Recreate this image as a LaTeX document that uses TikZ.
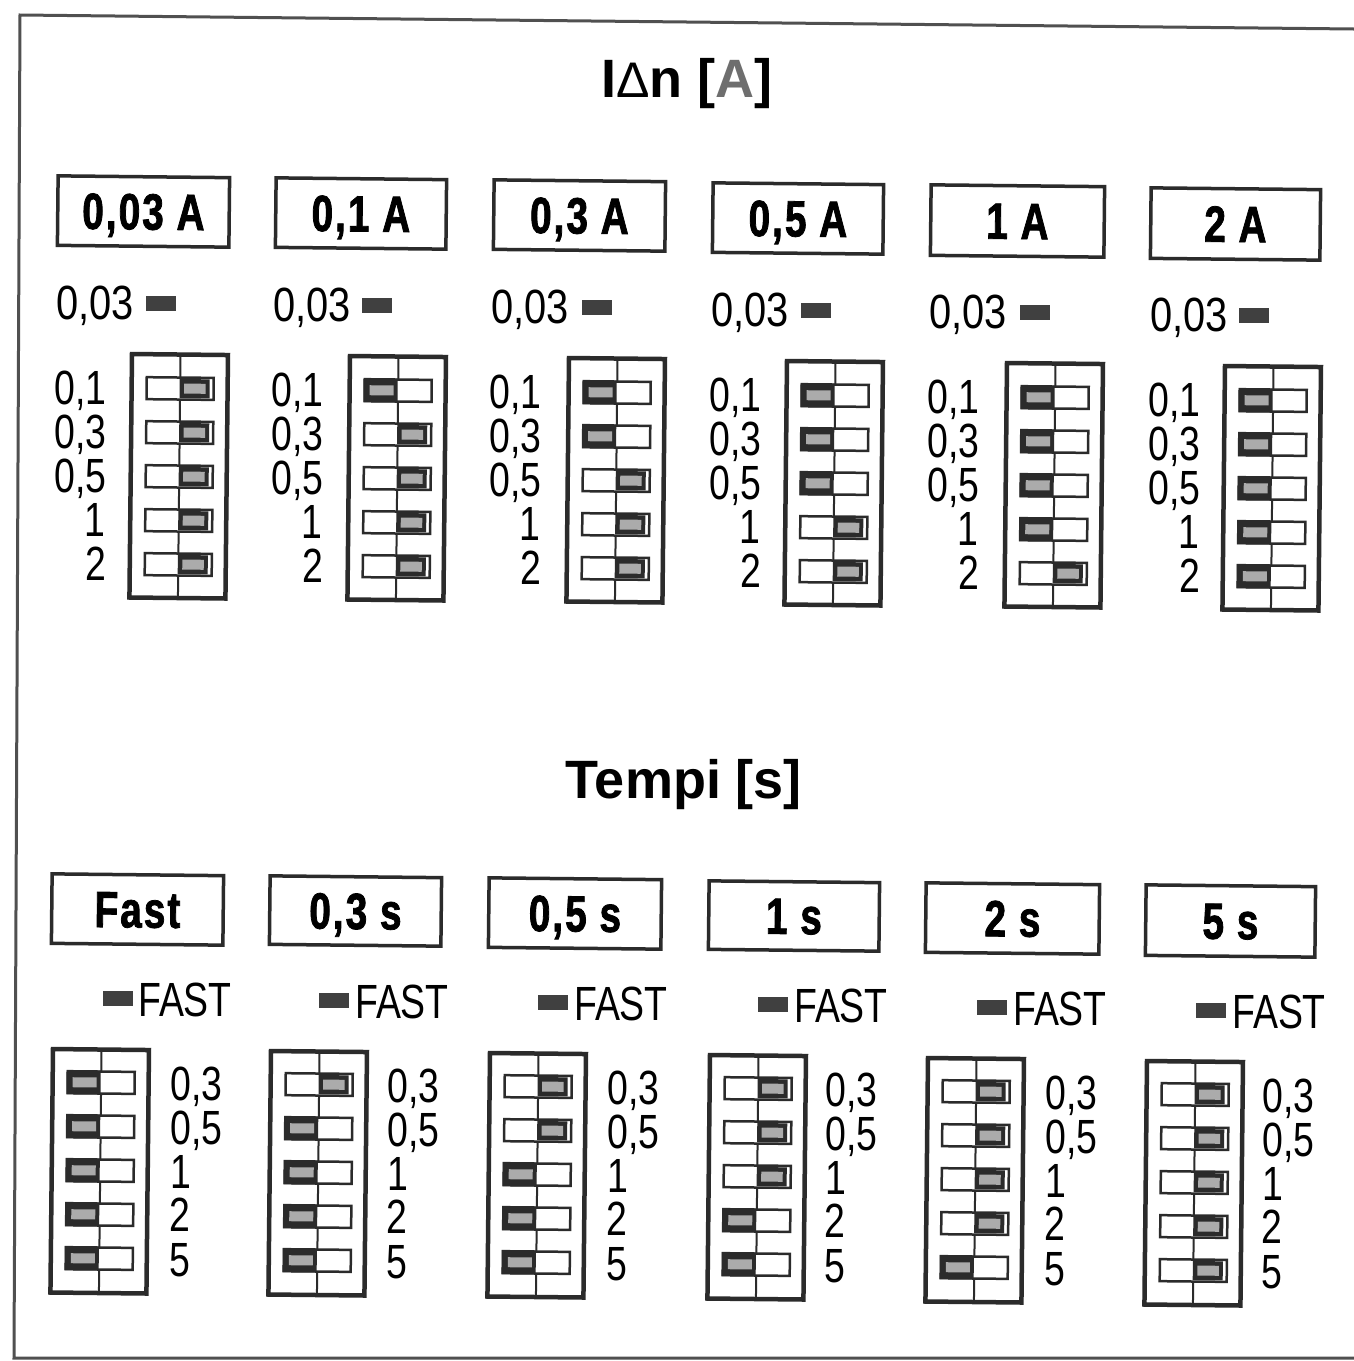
\documentclass[tikz,border=0pt]{standalone}
\usepackage{fontspec}
\setmainfont{Liberation Sans}
\newfontfamily\condfont[FakeStretch=0.83]{Liberation Sans}
\newfontfamily\fastfont[FakeStretch=0.78]{Liberation Sans}
\newfontfamily\hdrfont[FakeStretch=0.76,LetterSpace=4,FakeBold=1.5]{Liberation Sans Bold}
\definecolor{ink}{HTML}{2B2B2B}
\definecolor{framegray}{HTML}{505050}
\definecolor{slidergray}{HTML}{ABABAB}
\definecolor{bargray}{HTML}{404040}
\definecolor{titlegray}{HTML}{6E6E6E}
\newcommand{\tilt}{-0.6}
\tikzset{
  x=1pt,y=-1pt,
  hdrbox/.style={draw=ink,line width=3.5pt,fill=white,rotate=\tilt,inner sep=0pt,
    text=black,font=\hdrfont\fontsize{51}{51}\selectfont,text height=36pt,text depth=0pt},
  lbl/.style={inner sep=0pt,text=black,font=\condfont\fontsize{48}{48}\selectfont,text height=33pt,text depth=0pt},
  fastlbl/.style={inner sep=0pt,text=black,font=\fastfont\fontsize{48}{48}\selectfont,text height=33pt,text depth=0pt},
  titletext/.style={inner sep=0pt,text=black,font=\bfseries\fontsize{54}{54}\selectfont},
  panelbox/.style={draw=ink,line width=4.5pt,fill=white},
  midline/.style={draw=ink,line width=2pt},
  switchbox/.style={draw=ink,line width=2.5pt,fill=white},
  sliderframe/.style={fill=ink,draw=none},
  slidercore/.style={fill=slidergray,draw=none},
  legendbar/.style={fill=bargray,draw=none}
}
% #1 left, #2 top, #3 first-row offset, #4 list of slider sides (0 left, 1 right)
\newcommand{\swpanel}[4]{%
  \begin{scope}[shift={(#1,#2)},rotate=\tilt]
    \draw[panelbox] (2,1) rectangle (98,244.5);
    \draw[midline] (50.5,1) -- (50.5,244.5);
    \foreach \s [count=\i from 0] in {#4}{%
      \pgfmathsetmacro{\ry}{#3+44*\i}
      \draw[switchbox] (17,\ry-11) rectangle (84,\ry+11);
      \ifnum\s=0
        \fill[sliderframe] (16,\ry-12) rectangle (50,\ry+12);
        \fill[slidercore] (22,\ry-5) rectangle (46,\ry+5);
      \else
        \fill[sliderframe] (50,\ry-9.5) rectangle (80,\ry+9.5);
        \fill[slidercore] (54.5,\ry-5) rectangle (76,\ry+5);
      \fi
    }
  \end{scope}}
\newcommand{\legendbar}[2]{\fill[legendbar] (#1,#2) rectangle ++(30,15);}
\newcommand{\upcol}[9]{%
  % #1 id, #2,#3 box L,T, #4,#5 box W,H, #6 text left, #7 bar left, #8 panel left, #9 panel top
  \node[hdrbox,minimum width={#4pt-1.5pt},minimum height={#5pt-1.5pt}] (h#1) at ({#2+#4/2},{#3+#5/2}) {\HdrText};
  \node[lbl,anchor=west] (k#1) at (#6,{#9-50}) {0,03};
  \legendbar{#7}{#9-57}
  \node[fastlbl,anchor=east] (a#1) at (#6+51,#9+35) {0,1};
  \node[fastlbl,anchor=east] (b#1) at (#6+51,#9+79) {0,3};
  \node[fastlbl,anchor=east] (c#1) at (#6+51,#9+123) {0,5};
  \node[fastlbl,anchor=east] (d#1) at (#6+50,#9+167) {1};
  \node[fastlbl,anchor=east] (e#1) at (#6+51,#9+211) {2};
}
\newcommand{\lowcol}[9]{%
  \node[hdrbox,minimum width={#4pt-1.5pt},minimum height={#5pt-1.5pt}] (H#1) at ({#2+#4/2},{#3+#5/2}) {\HdrText};
  \node[fastlbl,anchor=west] (K#1) at (#6,{#9-48}) {FAST};
  \legendbar{#7}{#9-57}
  \node[fastlbl,anchor=west] (A#1) at (\Lx,#9+36) {0,3};
  \node[fastlbl,anchor=west] (B#1) at (\Lx,#9+80) {0,5};
  \node[fastlbl,anchor=west] (C#1) at (\Lx,#9+124) {1};
  \node[fastlbl,anchor=west] (D#1) at (\Lx-1,#9+167) {2};
  \node[fastlbl,anchor=west] (E#1) at (\Lx-1,#9+212) {5};
}
\begin{document}
\begin{tikzpicture}
\useasboundingbox (0,0) rectangle (1354,1361);
\fill[white] (0,0) rectangle (1354,1361);
\draw[framegray,line width=3pt] (1354,29) -- (20,15) -- (14,1358) -- (1354,1358);

\node[titletext] (title1) at (687,84) {I{\mdseries\fontsize{50}{50}\selectfont Δ}n [\textcolor{titlegray}{A}]};
\node[titletext] (title2) at (684,785) {Tempi [s]};

% upper row
\def\HdrText{0,03 A}\upcol{1}{57}{176}{173}{71}{56}{146}{130}{353}
\swpanel{130}{353}{35}{1,1,1,1,1}
\def\HdrText{0,1 A}\upcol{2}{275}{178}{172}{71}{273}{362}{348}{355}
\swpanel{348}{355}{35}{0,1,1,1,1}
\def\HdrText{0,3 A}\upcol{3}{493}{180}{173}{71}{491}{582}{567}{357}
\swpanel{567}{357}{35}{0,0,1,1,1}
\def\HdrText{0,5 A}\upcol{4}{712}{183}{172}{71}{711}{801}{785}{360}
\swpanel{785}{360}{35}{0,0,0,1,1}
\def\HdrText{1 A}\upcol{5}{930}{185}{175}{72}{929}{1020}{1005}{362}
\swpanel{1005}{362}{35}{0,0,0,0,1}
\def\HdrText{2 A}\upcol{6}{1150}{188}{171}{72}{1150}{1239}{1223}{365}
\swpanel{1223}{365}{35}{0,0,0,0,0}

% lower row
\def\Lx{170}\def\HdrText{Fast}\lowcol{1}{51}{874}{173}{71}{138}{103}{51}{1048}
\swpanel{51}{1048}{34}{0,0,0,0,0}
\def\Lx{387}\def\HdrText{0,3 s}\lowcol{2}{269}{876}{173}{70}{355}{319}{269}{1050}
\swpanel{269}{1050}{34}{1,0,0,0,0}
\def\Lx{607}\def\HdrText{0,5 s}\lowcol{3}{488}{878}{174}{71}{574}{538}{488}{1052}
\swpanel{488}{1052}{34}{1,1,0,0,0}
\def\Lx{825}\def\HdrText{1 s}\lowcol{4}{708}{881}{172}{70}{794}{758}{708}{1054}
\swpanel{708}{1054}{34}{1,1,1,0,0}
\def\Lx{1045}\def\HdrText{2 s}\lowcol{5}{925}{883}{175}{71}{1013}{977}{926}{1057}
\swpanel{926}{1057}{34}{1,1,1,1,0}
\def\Lx{1262}\def\HdrText{5 s}\lowcol{6}{1145}{885}{171}{72}{1232}{1196}{1145}{1060}
\swpanel{1145}{1060}{34}{1,1,1,1,1}
\end{tikzpicture}
\end{document}
